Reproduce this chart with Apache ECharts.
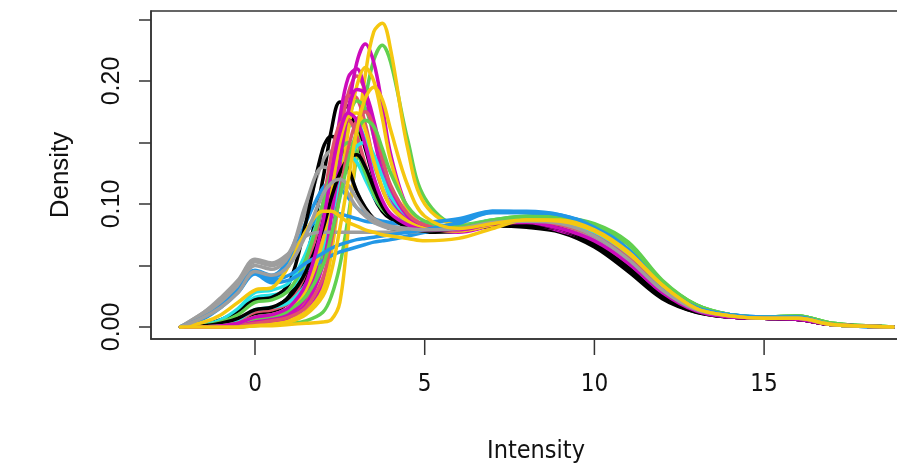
<!DOCTYPE html>
<html>
<head>
<meta charset="utf-8">
<script src="https://cdn.jsdelivr.net/npm/echarts@6/dist/echarts.min.js"></script>
<style>
  html, body { margin: 0; padding: 0; background: #fff; }
  #root { width: 897px; height: 469px; }
</style>
</head>
<body>
<div id="root"></div>
<script>
// intensity grid shared by every density curve
const intensity = [-2.2, -1.5, -1, -0.5, 0, 0.5, 1, 1.5, 2, 2.25, 2.5, 2.75, 3, 3.25, 3.5, 3.75, 4, 4.5, 5,
  6, 7, 8, 9, 10, 11, 12, 13, 14, 15, 16, 17, 18.8]

const xTicks = [0, 5, 10, 15]
const yTicks = [0, 0.05, 0.1, 0.15, 0.2, 0.25]
const yLabels = [0, 0.1, 0.2]

// density values, one array per sample
const black1 = [0,0.001,0.003,0.007,0.012,0.015,0.025,0.055,0.12,0.16,0.183,0.178,0.155,0.128,0.106,0.094,0.088,0.082,0.079, 0.079,0.083,0.082,0.078,0.066,0.046,0.024,0.012,0.008,0.007,0.006,0.002,0]
const pink1 = [0,0,0,0.001,0.003,0.005,0.009,0.02,0.06,0.105,0.155,0.19,0.204,0.192,0.16,0.128,0.106,0.088,0.081, 0.079,0.084,0.086,0.083,0.074,0.056,0.031,0.014,0.009,0.007,0.007,0.002,0]
const green1 = [0,0,0,0,0.001,0.002,0.003,0.005,0.012,0.025,0.05,0.09,0.14,0.185,0.217,0.229,0.215,0.152,0.105, 0.083,0.087,0.09,0.089,0.084,0.069,0.038,0.018,0.01,0.008,0.009,0.003,0]
const blue1 = [0,0.01,0.02,0.033,0.046,0.042,0.055,0.085,0.113,0.117,0.113,0.105,0.097,0.092,0.088,0.086,0.085,0.085,0.085, 0.087,0.093,0.093,0.09,0.081,0.063,0.033,0.016,0.01,0.008,0.008,0.002,0]
const cyan1 = [0,0.001,0.004,0.012,0.024,0.026,0.03,0.05,0.09,0.12,0.148,0.163,0.164,0.152,0.132,0.113,0.1,0.088,0.083, 0.081,0.086,0.088,0.086,0.077,0.058,0.032,0.015,0.009,0.007,0.007,0.002,0]
const magenta1 = [0,0,0,0,0.002,0.004,0.006,0.012,0.035,0.07,0.12,0.175,0.215,0.23,0.215,0.18,0.14,0.096,0.082, 0.077,0.082,0.083,0.078,0.069,0.051,0.027,0.013,0.008,0.007,0.006,0.002,0]
const yellow1 = [0,0,0,0,0.001,0.001,0.002,0.003,0.004,0.006,0.02,0.08,0.15,0.205,0.24,0.247,0.225,0.145,0.1, 0.083,0.084,0.087,0.086,0.078,0.06,0.034,0.015,0.009,0.007,0.007,0.002,0]
const gray1 = [0,0.012,0.022,0.035,0.053,0.05,0.06,0.095,0.135,0.143,0.14,0.126,0.11,0.097,0.088,0.083,0.081,0.079,0.079, 0.08,0.085,0.086,0.084,0.074,0.055,0.03,0.014,0.009,0.007,0.007,0.002,0]

const black2 = [0,0.002,0.006,0.013,0.022,0.024,0.035,0.085,0.145,0.155,0.148,0.13,0.11,0.097,0.088,0.083,0.08,0.078,0.077, 0.078,0.082,0.081,0.077,0.065,0.045,0.023,0.012,0.008,0.007,0.006,0.002,0]
const pink2 = [0,0,0.001,0.002,0.006,0.008,0.012,0.03,0.08,0.125,0.165,0.188,0.186,0.165,0.135,0.112,0.098,0.085,0.08, 0.078,0.083,0.085,0.082,0.073,0.055,0.03,0.014,0.009,0.007,0.007,0.002,0]
const green2 = [0,0,0,0.002,0.005,0.008,0.012,0.025,0.06,0.095,0.135,0.168,0.184,0.178,0.155,0.128,0.107,0.088,0.082, 0.08,0.086,0.089,0.089,0.083,0.068,0.037,0.018,0.01,0.008,0.009,0.003,0]
const blue2 = [0,0.009,0.018,0.03,0.044,0.04,0.05,0.076,0.092,0.093,0.092,0.09,0.088,0.086,0.085,0.084,0.084,0.084,0.085, 0.088,0.094,0.093,0.09,0.082,0.063,0.033,0.016,0.01,0.008,0.008,0.002,0]
const cyan2 = [0,0.002,0.006,0.015,0.028,0.03,0.036,0.06,0.1,0.122,0.135,0.14,0.134,0.12,0.106,0.096,0.09,0.085,0.082, 0.082,0.087,0.089,0.087,0.078,0.059,0.032,0.015,0.009,0.007,0.007,0.002,0]
const magenta2 = [0,0,0,0.001,0.004,0.006,0.01,0.025,0.07,0.12,0.17,0.203,0.21,0.19,0.155,0.125,0.105,0.088,0.08, 0.078,0.083,0.084,0.078,0.069,0.051,0.027,0.013,0.008,0.007,0.006,0.002,0]
const yellow2 = [0,0,0,0.001,0.002,0.003,0.006,0.012,0.03,0.06,0.11,0.16,0.196,0.211,0.2,0.17,0.135,0.095,0.082, 0.078,0.083,0.087,0.086,0.077,0.059,0.033,0.015,0.009,0.007,0.007,0.002,0]
const gray2 = [0,0.01,0.02,0.033,0.05,0.047,0.058,0.1,0.13,0.128,0.12,0.108,0.097,0.09,0.085,0.082,0.08,0.079,0.079, 0.08,0.084,0.085,0.083,0.073,0.054,0.029,0.014,0.009,0.007,0.007,0.002,0]

const black3 = [0,0,0.002,0.005,0.01,0.012,0.02,0.04,0.085,0.12,0.152,0.168,0.164,0.145,0.12,0.101,0.09,0.081,0.078, 0.079,0.084,0.083,0.079,0.067,0.047,0.025,0.013,0.008,0.007,0.006,0.002,0]
const pink3 = [0,0.001,0.002,0.005,0.012,0.014,0.02,0.045,0.1,0.14,0.165,0.168,0.155,0.132,0.11,0.097,0.09,0.083,0.08, 0.08,0.085,0.087,0.084,0.075,0.057,0.031,0.014,0.009,0.007,0.007,0.002,0]
const green3 = [0,0.001,0.004,0.01,0.02,0.022,0.03,0.055,0.1,0.126,0.144,0.15,0.142,0.125,0.108,0.096,0.09,0.084,0.082, 0.082,0.087,0.09,0.089,0.082,0.067,0.036,0.017,0.01,0.008,0.009,0.003,0]
const blue3 = [0,0.007,0.016,0.028,0.043,0.036,0.038,0.046,0.054,0.058,0.061,0.063,0.065,0.067,0.069,0.07,0.071,0.074,0.077, 0.084,0.093,0.093,0.091,0.082,0.063,0.034,0.016,0.01,0.008,0.008,0.002,0]
const cyan3 = [0,0,0.002,0.006,0.014,0.016,0.02,0.035,0.065,0.09,0.115,0.135,0.147,0.15,0.14,0.122,0.106,0.09,0.083, 0.08,0.085,0.087,0.085,0.076,0.057,0.031,0.015,0.009,0.007,0.007,0.002,0]
const magenta3 = [0,0,0,0.001,0.003,0.005,0.008,0.018,0.05,0.09,0.135,0.175,0.193,0.19,0.168,0.138,0.113,0.09,0.081, 0.078,0.083,0.085,0.079,0.07,0.052,0.028,0.013,0.008,0.007,0.006,0.002,0]
const yellow3 = [0,0,0.001,0.003,0.008,0.01,0.015,0.03,0.07,0.11,0.15,0.172,0.174,0.16,0.135,0.113,0.098,0.086,0.08, 0.078,0.083,0.087,0.086,0.078,0.06,0.034,0.015,0.009,0.007,0.007,0.002,0]
const gray3 = [0,0.012,0.024,0.038,0.055,0.052,0.06,0.074,0.077,0.077,0.077,0.077,0.077,0.077,0.077,0.077,0.077,0.077,0.078, 0.08,0.084,0.085,0.083,0.073,0.054,0.029,0.014,0.009,0.007,0.007,0.002,0]

const black4 = [0,0.001,0.003,0.007,0.014,0.016,0.024,0.045,0.08,0.105,0.125,0.137,0.14,0.13,0.113,0.098,0.089,0.081,0.078, 0.08,0.084,0.084,0.08,0.068,0.048,0.025,0.013,0.008,0.007,0.006,0.002,0]
const pink4 = [0,0,0,0.001,0.003,0.005,0.008,0.016,0.04,0.07,0.108,0.145,0.168,0.175,0.162,0.138,0.115,0.092,0.083, 0.079,0.084,0.086,0.083,0.074,0.056,0.031,0.014,0.009,0.007,0.007,0.002,0]
const green4 = [0,0,0.001,0.003,0.008,0.01,0.014,0.025,0.05,0.075,0.105,0.135,0.158,0.168,0.163,0.145,0.125,0.098,0.086, 0.081,0.086,0.089,0.088,0.083,0.068,0.037,0.018,0.01,0.008,0.009,0.003,0]
const blue4 = [0,0.008,0.017,0.03,0.045,0.038,0.042,0.052,0.06,0.064,0.067,0.069,0.071,0.072,0.073,0.074,0.075,0.077,0.079, 0.085,0.094,0.094,0.091,0.081,0.062,0.033,0.016,0.01,0.008,0.008,0.002,0]
const magenta4 = [0,0,0.001,0.003,0.008,0.01,0.016,0.035,0.085,0.125,0.158,0.174,0.168,0.148,0.122,0.103,0.092,0.083,0.079, 0.079,0.084,0.085,0.08,0.07,0.052,0.028,0.013,0.008,0.007,0.006,0.002,0]
const yellow4 = [0,0.004,0.01,0.02,0.03,0.032,0.05,0.078,0.094,0.094,0.09,0.085,0.082,0.079,0.077,0.075,0.074,0.072,0.07, 0.072,0.08,0.087,0.087,0.079,0.061,0.034,0.015,0.009,0.007,0.007,0.002,0]
const gray4 = [0,0.008,0.016,0.028,0.045,0.042,0.05,0.075,0.108,0.117,0.12,0.115,0.104,0.094,0.088,0.084,0.082,0.08,0.079, 0.08,0.085,0.086,0.084,0.074,0.055,0.03,0.014,0.009,0.007,0.007,0.002,0]

const yellow5 = [0,0,0,0,0.001,0.002,0.004,0.01,0.025,0.045,0.08,0.12,0.16,0.186,0.195,0.185,0.16,0.115,0.09, 0.08,0.084,0.087,0.086,0.078,0.06,0.034,0.015,0.009,0.007,0.007,0.002,0]

// R 4.x default palette
const palette = {
  black: '#000000', pink: '#DF536B', green: '#61D04F', blue: '#2297E6',
  cyan: '#28E2E5', magenta: '#CD0BBC', yellow: '#F5C710', gray: '#9E9E9E'
}

const samples = [
  ['black1', 'black', black1], ['pink1', 'pink', pink1], ['green1', 'green', green1], ['blue1', 'blue', blue1],
  ['cyan1', 'cyan', cyan1], ['magenta1', 'magenta', magenta1], ['yellow1', 'yellow', yellow1], ['gray1', 'gray', gray1],
  ['black2', 'black', black2], ['pink2', 'pink', pink2], ['green2', 'green', green2], ['blue2', 'blue', blue2],
  ['cyan2', 'cyan', cyan2], ['magenta2', 'magenta', magenta2], ['yellow2', 'yellow', yellow2], ['gray2', 'gray', gray2],
  ['black3', 'black', black3], ['pink3', 'pink', pink3], ['green3', 'green', green3], ['blue3', 'blue', blue3],
  ['cyan3', 'cyan', cyan3], ['magenta3', 'magenta', magenta3], ['yellow3', 'yellow', yellow3], ['gray3', 'gray', gray3],
  ['black4', 'black', black4], ['pink4', 'pink', pink4], ['green4', 'green', green4], ['blue4', 'blue', blue4],
  ['magenta4', 'magenta', magenta4], ['yellow4', 'yellow', yellow4], ['gray4', 'gray', gray4], ['yellow5', 'yellow', yellow5]
]

const yMin = -0.0098

const series = samples.map(([name, col, values]) => {
  return {
    name,
    type: 'line',
    data: values.map((v, i) => [intensity[i], v]),
    smooth: 0.35,
    showSymbol: false,
    silent: true,
    lineStyle: { color: palette[col], width: 3.5, cap: 'round', join: 'round' },
    itemStyle: { color: palette[col] }
  }
})

// x tick marks under the box, placed with the axis scale (drawn outside the clip area)
series.push({
  name: 'xTickMarks',
  type: 'custom',
  clip: false,
  silent: true,
  data: xTicks.map(v => [v, yMin]),
  renderItem: (params, api) => {
    const [px, py] = api.coord([api.value(0), api.value(1)])
    return {
      type: 'line',
      shape: { x1: px, y1: py + 1, x2: px, y2: py + 16 },
      style: { stroke: '#333', lineWidth: 1.5 }
    }
  }
})

const chart = echarts.init(document.getElementById('root'), null, { renderer: 'canvas' })
chart.setOption({
  animation: false,
  backgroundColor: '#fff',
  grid: {
    left: 151, top: 11, width: 756, height: 328,
    outerBoundsMode: 'none',
    containLabel: false,
    show: true, borderColor: '#333', borderWidth: 1.5, backgroundColor: 'transparent'
  },
  xAxis: {
    type: 'value',
    position: 'bottom',
    min: -3.064, max: 19.21,
    name: 'Intensity',
    nameLocation: 'middle',
    nameGap: 100,
    nameTextStyle: { fontFamily: "'Liberation Sans Narrow', 'DejaVu Sans Condensed', 'Liberation Sans', sans-serif", fontSize: 25, color: '#111', padding: [0, 0, 0, 14] },
    axisLine: { show: true, onZero: false, lineStyle: { color: '#333', width: 1.5 } },
    splitLine: { show: false },
    axisTick: { show: false },
    axisLabel: {
      show: true,
      customValues: xTicks,
      margin: 34,
      fontFamily: "'Liberation Sans Narrow', 'DejaVu Sans Condensed', 'Liberation Sans', sans-serif",
      fontSize: 24, color: '#111'
    }
  },
  yAxis: {
    type: 'value',
    position: 'left',
    min: yMin, max: 0.2569,
    name: 'Density',
    nameLocation: 'middle',
    nameGap: 77,
    nameRotate: 90,
    nameTextStyle: { fontFamily: "'Liberation Sans', Arial, sans-serif", fontSize: 26, color: '#111' },
    axisLine: { show: true, onZero: false, lineStyle: { color: '#333', width: 1.5 } },
    splitLine: { show: false },
    axisTick: { show: true, inside: false, customValues: yTicks, length: 12, lineStyle: { color: '#333', width: 1.5 } },
    axisLabel: {
      customValues: yLabels,
      rotate: 90,
      margin: 26,
      fontFamily: "'Liberation Sans', Arial, sans-serif",
      fontSize: 25, color: '#111',
      formatter: v => v.toFixed(2)
    }
  },
  series
})
</script>
</body>
</html>
